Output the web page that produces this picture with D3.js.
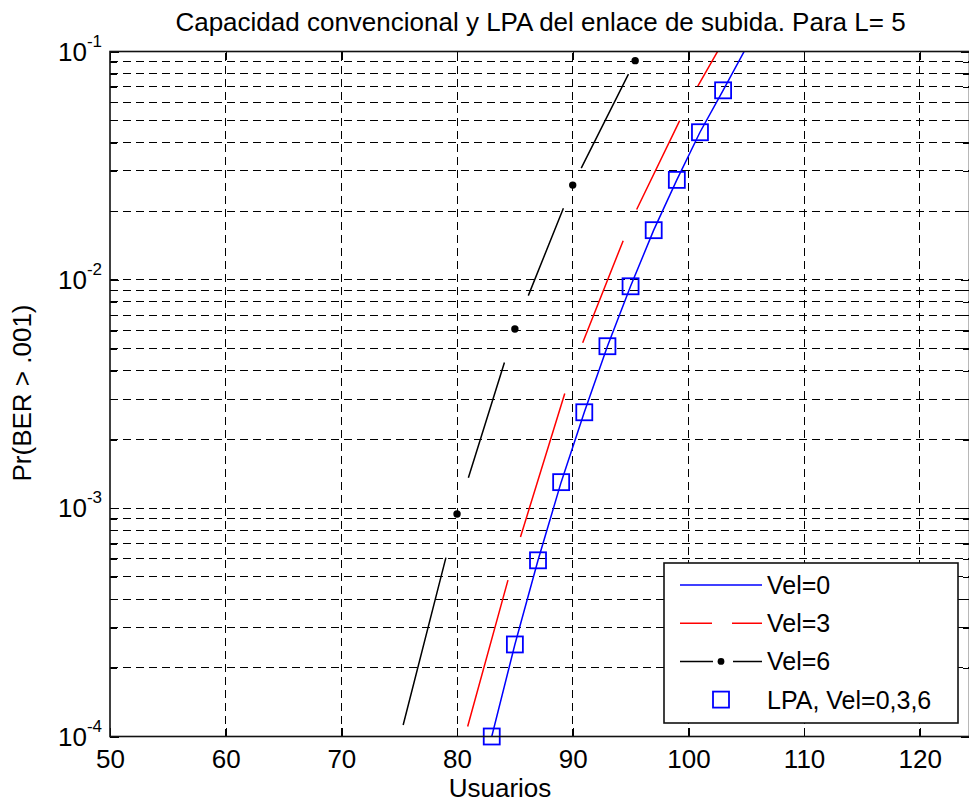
<!DOCTYPE html>
<html>
<head>
<meta charset="utf-8">
<script src="https://cdn.jsdelivr.net/npm/d3@7/dist/d3.min.js"></script>
<style>
  body { margin: 0; background: #fff; }
  svg { display: block; }
  text { font-family: "Liberation Sans", Arial, sans-serif; fill: #000; }
</style>
</head>
<body>
<svg id="chart" width="969" height="805"></svg>
<script>
// Pr(BER > .001) against number of users, uplink, L = 5
const usersVel0 = [83, 85, 87, 89, 91, 93, 95, 97, 99, 101, 103, 105];
const probVel0  = [1.0e-4, 2.53e-4, 5.91e-4, 1.30e-3, 2.63e-3, 5.12e-3, 9.37e-3, 1.65e-2, 2.74e-2, 4.43e-2, 6.76e-2, 1.04e-1];

const usersVel3 = [80, 85, 90, 95, 100, 105];
const probVel3  = [7.5e-5, 6.23e-4, 4.12e-3, 1.79e-2, 5.97e-2, 1.66e-1];

const usersVel6 = [75, 80, 85, 90, 95.4];
const probVel6  = [9.6e-5, 9.43e-4, 6.09e-3, 2.60e-2, 9.12e-2];

// LPA capacity (same for Vel = 0, 3, 6)
const usersLPA = [83, 85, 87, 89, 91, 93, 95, 97, 99, 101, 103];
const probLPA  = [1.0e-4, 2.53e-4, 5.91e-4, 1.30e-3, 2.63e-3, 5.12e-3, 9.37e-3, 1.65e-2, 2.74e-2, 4.43e-2, 6.76e-2];

const xTicks = [50, 60, 70, 80, 90, 100, 110, 120];
const yTicks = [1e-4, 1e-3, 1e-2, 1e-1];
const yTickExponents = ["-4", "-3", "-2", "-1"];
const legendLabels = ["Vel=0", "Vel=3", "Vel=6", "LPA, Vel=0,3,6"];
const titleText = "Capacidad convencional y LPA del enlace de subida. Para L= 5";
const xLabelText = "Usuarios";
const yLabelText = "Pr(BER > .001)";

// ---- layout & style ----
const L = 110, R = 969.5, T = 51.5, B = 736.5;
const FONT = 26;
const BLUE = "#0000ff", RED = "#ff0000", BLACK = "#000000";
const LW = 1.5;
// start/end gaps (px) of the dash drawn on each line piece
const gapsVel3 = [[40, 26], [19, 27], [27, 20], [14, 20], [19, 20]];
const gapsVel6 = [[16, 45], [38, 35], [36, 25], [19, 15]];

const svg = d3.select("#chart");
const x = d3.scaleLinear().domain([50, 124.3]).range([L, R]);
const y = d3.scaleLog().domain([1e-4, 1e-1]).range([B, T]);

svg.append("rect").attr("width", 969).attr("height", 805).attr("fill", "#fff");

svg.append("defs").append("clipPath").attr("id", "plotClip")
  .append("rect").attr("x", L).attr("y", T).attr("width", R - L).attr("height", B - T);

// ---- grid ----
const grid = svg.append("g").attr("stroke", "#000").attr("stroke-width", 1)
  .attr("fill", "none").attr("shape-rendering", "crispEdges");
grid.selectAll("line.h")
  .data(y.ticks().filter(v => v > 1.0001e-4 && v < 0.09999))
  .join("line").attr("class", "h")
  .attr("x1", L).attr("x2", R)
  .attr("y1", d => y(d)).attr("y2", d => y(d))
  .attr("stroke-dasharray", "8,5");
grid.selectAll("line.v")
  .data(xTicks.filter(v => v > 50))
  .join("line").attr("class", "v")
  .attr("x1", d => x(d)).attr("x2", d => x(d))
  .attr("y1", B).attr("y2", T)
  .attr("stroke-dasharray", "8,5");

// ---- axes ----
const tickLen = 8.5, minorLen = 6.5;
const axB = svg.append("g").attr("transform", `translate(0,${B})`)
  .call(d3.axisBottom(x).tickValues(xTicks).tickSize(-tickLen).tickPadding(13));
axB.selectAll("text").attr("font-size", FONT).attr("font-family", '"Liberation Sans", Arial, sans-serif');
svg.append("g").attr("transform", `translate(0,${T})`)
  .call(d3.axisTop(x).tickValues(xTicks).tickSize(-tickLen).tickFormat(""));
svg.append("g").attr("transform", `translate(${L},0)`)
  .call(d3.axisLeft(y).tickValues(yTicks).tickSize(-tickLen).tickFormat(""));
svg.append("g").attr("transform", `translate(${R},0)`)
  .call(d3.axisRight(y).tickValues(yTicks).tickSize(-tickLen).tickFormat(""));
const minorVals = y.ticks().filter(v => !yTicks.some(t => Math.abs(t - v) / t < 1e-6));
svg.append("g").attr("transform", `translate(${L},0)`)
  .call(d3.axisLeft(y).tickValues(minorVals).tickSize(-minorLen).tickFormat(""));
svg.append("g").attr("transform", `translate(${R},0)`)
  .call(d3.axisRight(y).tickValues(minorVals).tickSize(-minorLen).tickFormat(""));
svg.selectAll(".domain").remove();
svg.selectAll(".tick line").attr("stroke", "#000").attr("stroke-width", 1.3)
  .attr("shape-rendering", "crispEdges");

// y tick labels as powers of ten
const yLab = svg.append("g").selectAll("text").data(yTicks).join("text")
  .attr("x", 102).attr("y", d => y(d) + 9.3)
  .attr("text-anchor", "end").attr("font-size", FONT);
yLab.append("tspan").text("10");
yLab.append("tspan").attr("font-size", 17).attr("dy", -14)
  .text((d, i) => yTickExponents[i]);

// ---- series ----
const plot = svg.append("g").attr("clip-path", "url(#plotClip)").attr("fill", "none");
const toPts = (us, ps) => us.map((u, i) => [x(u), y(ps[i])]);

plot.append("path")
  .attr("d", d3.line()(toPts(usersVel0, probVel0)))
  .attr("stroke", BLUE).attr("stroke-width", LW);

function dashedPieces(us, ps, gaps, color) {
  const pieces = d3.pairs(toPts(us, ps));
  plot.append("g").selectAll("path").data(pieces).join("path")
    .attr("d", d => d3.line()(d))
    .attr("stroke", color).attr("stroke-width", LW)
    .attr("stroke-dasharray", (d, i) => {
      const len = Math.hypot(d[1][0] - d[0][0], d[1][1] - d[0][1]);
      const [g0, g1] = gaps[i];
      return `0 ${g0} ${Math.max(len - g0 - g1, 0)} ${g1 + 50}`;
    });
}
dashedPieces(usersVel3, probVel3, gapsVel3, RED);
dashedPieces(usersVel6, probVel6, gapsVel6, BLACK);

const inDomain = p => p >= 1e-4 * 0.999 && p <= 1e-1 * 1.001;
// point markers on the Vel=6 curve
svg.append("g").selectAll("circle")
  .data(usersVel6.map((u, i) => [u, probVel6[i]]).filter(d => inDomain(d[1])))
  .join("circle")
  .attr("cx", d => x(d[0])).attr("cy", d => y(d[1])).attr("r", 3.7)
  .attr("fill", BLACK);

// LPA square markers
const SQ = 16;
svg.append("g").selectAll("rect")
  .data(usersLPA.map((u, i) => [u, probLPA[i]]).filter(d => inDomain(d[1])))
  .join("rect")
  .attr("x", d => x(d[0]) - SQ / 2).attr("y", d => y(d[1]) - SQ / 2)
  .attr("width", SQ).attr("height", SQ)
  .attr("fill", "none").attr("stroke", BLUE).attr("stroke-width", 1.8);

// ---- frame ----
svg.append("rect").attr("x", L).attr("y", T).attr("width", R - L).attr("height", B - T)
  .attr("fill", "none").attr("stroke", "#111").attr("stroke-width", 1.6);

// ---- titles ----
svg.append("text").attr("x", 540.5).attr("y", 31).attr("text-anchor", "middle")
  .attr("font-size", FONT).text(titleText);
svg.append("text").attr("x", 500).attr("y", 797).attr("text-anchor", "middle")
  .attr("font-size", FONT).text(xLabelText);
svg.append("text").attr("transform", "translate(31,393) rotate(-90)")
  .attr("text-anchor", "middle").attr("font-size", FONT).text(yLabelText);

// ---- legend ----
const lg = svg.append("g");
lg.append("rect").attr("x", 664).attr("y", 563).attr("width", 294).attr("height", 160)
  .attr("fill", "#fff").attr("stroke", "#111").attr("stroke-width", 1.6);
const rowY = i => 585 + i * 38.2;
const lx0 = 680, lx1 = 762, lmid = 721;
lg.append("line").attr("x1", lx0).attr("x2", lx1).attr("y1", rowY(0)).attr("y2", rowY(0))
  .attr("stroke", BLUE).attr("stroke-width", LW);
lg.append("line").attr("x1", lx0).attr("x2", lx1).attr("y1", rowY(1)).attr("y2", rowY(1))
  .attr("stroke", RED).attr("stroke-width", LW).attr("stroke-dasharray", "32,20,30");
lg.append("line").attr("x1", lx0).attr("x2", lx1).attr("y1", rowY(2)).attr("y2", rowY(2))
  .attr("stroke", BLACK).attr("stroke-width", LW).attr("stroke-dasharray", "33,20,30");
lg.append("circle").attr("cx", lmid).attr("cy", rowY(2)).attr("r", 3.4).attr("fill", BLACK);
lg.append("rect").attr("x", lmid - SQ / 2).attr("y", rowY(3) - SQ / 2)
  .attr("width", SQ).attr("height", SQ)
  .attr("fill", "none").attr("stroke", BLUE).attr("stroke-width", 1.8);
lg.selectAll("text.lab").data(legendLabels).join("text").attr("class", "lab")
  .attr("x", 767).attr("y", (d, i) => rowY(i) + 9)
  .attr("font-size", 25).text(d => d);
</script>
</body>
</html>
